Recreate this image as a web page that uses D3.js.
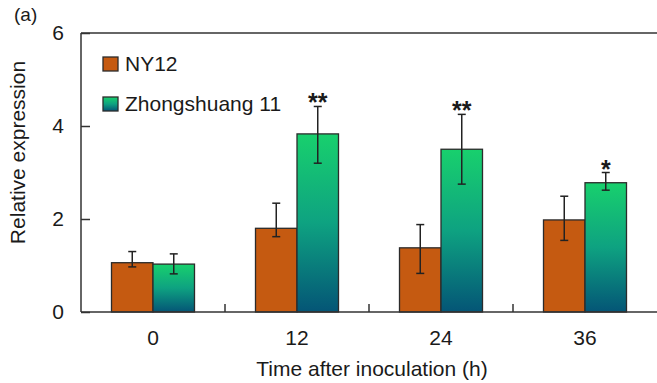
<!DOCTYPE html>
<html>
<head>
<meta charset="utf-8">
<script src="https://cdn.jsdelivr.net/npm/d3@7"></script>
<style>
  html, body { margin: 0; padding: 0; background: #fff; }
  svg { display: block; font-family: "Liberation Sans", Arial, sans-serif; }
</style>
</head>
<body>
<svg id="chart" width="657" height="383"></svg>
<script>
// Time points (h) after inoculation
const categories = ["0", "12", "24", "36"];
const seriesNames = ["NY12", "Zhongshuang 11"];

// Mean relative expression
const ny12Values = [1.06, 1.80, 1.38, 1.98];
const zs11Values = [1.03, 3.83, 3.50, 2.78];

// Error bar ends (whisker top / bottom)
const ny12High = [1.30, 2.34, 1.88, 2.49];
const ny12Low  = [0.97, 1.62, 0.83, 1.54];
const zs11High = [1.25, 4.42, 4.25, 3.00];
const zs11Low  = [0.82, 3.20, 2.75, 2.62];

// Significance marks for Zhongshuang 11 vs NY12
const zs11Signif = ["", "**", "**", "*"];

const yTicks = [0, 2, 4, 6];

(function draw() {
  const svg = d3.select("#chart");
  const plotLeft = 81, plotRight = 657, plotTop = 33, plotBottom = 312;
  const axisColor = "#333";
  const textColor = "#1a1a1a";

  // gradient fill for Zhongshuang 11 bars
  const defs = svg.append("defs");
  const grad = defs.append("linearGradient")
    .attr("id", "zsGrad").attr("x1", 0).attr("y1", 0).attr("x2", 0).attr("y2", 1);
  grad.append("stop").attr("offset", "0%").attr("stop-color", "#18d06d");
  grad.append("stop").attr("offset", "50%").attr("stop-color", "#0ea281");
  grad.append("stop").attr("offset", "100%").attr("stop-color", "#045576");

  const fills = ["#c55a11", "url(#zsGrad)"];

  const x = d3.scaleBand().domain(categories).range([plotLeft, plotRight]).paddingInner(0).paddingOuter(0);
  const x1 = d3.scaleBand().domain(seriesNames).range([0, x.bandwidth()]).paddingInner(0).paddingOuter(0.735);
  const y = d3.scaleLinear().domain([0, 6]).range([plotBottom, plotTop]);

  const series = [
    { name: seriesNames[0], values: ny12Values, hi: ny12High, lo: ny12Low, sig: null },
    { name: seriesNames[1], values: zs11Values, hi: zs11High, lo: zs11Low, sig: zs11Signif }
  ];

  // bars
  series.forEach((s, si) => {
    svg.append("g").selectAll("rect").data(categories).join("rect")
      .attr("x", (c) => x(c) + x1(s.name))
      .attr("y", (c, i) => y(s.values[i]))
      .attr("width", x1.bandwidth())
      .attr("height", (c, i) => y(0) - y(s.values[i]))
      .attr("fill", fills[si])
      .attr("stroke", "#2b2b2b")
      .attr("stroke-width", 1.3);
  });

  // error bars and significance marks
  series.forEach((s) => {
    const g = svg.append("g").attr("stroke", "#222").attr("stroke-width", 1.5);
    categories.forEach((c, i) => {
      const cx = x(c) + x1(s.name) + x1.bandwidth() / 2;
      g.append("line").attr("x1", cx).attr("x2", cx).attr("y1", y(s.hi[i])).attr("y2", y(s.lo[i]));
      [s.hi[i], s.lo[i]].forEach(v => {
        g.append("line").attr("x1", cx - 4).attr("x2", cx + 4).attr("y1", y(v)).attr("y2", y(v));
      });
      if (s.sig && s.sig[i]) {
        svg.append("text")
          .attr("x", cx).attr("y", y(s.hi[i]) + 5)
          .attr("text-anchor", "middle")
          .attr("font-size", 25).attr("font-weight", "bold")
          .attr("fill", textColor)
          .text(s.sig[i]);
      }
    });
  });

  // y axis
  const yAxis = d3.axisLeft(y).tickValues(yTicks).tickFormat(d3.format("d")).tickSize(-9).tickPadding(17);
  const gy = svg.append("g").attr("transform", `translate(${plotLeft},0)`).call(yAxis);
  gy.select(".domain").remove();
  gy.selectAll(".tick line").attr("stroke", axisColor).attr("stroke-width", 1.5);
  gy.selectAll(".tick text").attr("font-size", 21).attr("fill", textColor)
    .attr("font-family", "Liberation Sans, Arial, sans-serif");

  // frame: left and top lines
  svg.append("line").attr("x1", plotLeft).attr("x2", plotLeft).attr("y1", plotTop).attr("y2", plotBottom)
    .attr("stroke", axisColor).attr("stroke-width", 1.5);
  svg.append("line").attr("x1", plotLeft).attr("x2", plotRight).attr("y1", plotTop).attr("y2", plotTop)
    .attr("stroke", axisColor).attr("stroke-width", 1.5);

  // x axis with separator ticks between groups
  const xAxis = d3.axisBottom(x).tickSize(0).tickPadding(18);
  const gx = svg.append("g").attr("transform", `translate(0,${plotBottom})`).call(xAxis);
  gx.select(".domain").remove();
  gx.selectAll(".tick text").attr("font-size", 21).attr("fill", textColor)
    .attr("font-family", "Liberation Sans, Arial, sans-serif");
  svg.append("line").attr("x1", plotLeft).attr("x2", plotRight).attr("y1", plotBottom).attr("y2", plotBottom)
    .attr("stroke", axisColor).attr("stroke-width", 1.5);
  svg.append("g").selectAll("line").data(categories.slice(1)).join("line")
    .attr("x1", c => x(c)).attr("x2", c => x(c))
    .attr("y1", plotBottom).attr("y2", plotBottom - 8)
    .attr("stroke", axisColor).attr("stroke-width", 1.5);

  // axis titles
  svg.append("text")
    .attr("x", (plotLeft + plotRight) / 2 + 3).attr("y", 376)
    .attr("text-anchor", "middle").attr("font-size", 21).attr("fill", textColor)
    .text("Time after inoculation (h)");
  svg.append("text")
    .attr("transform", `translate(25,${(plotTop + plotBottom) / 2 - 20}) rotate(-90)`)
    .attr("text-anchor", "middle").attr("font-size", 21).attr("fill", textColor)
    .text("Relative expression");

  // panel label
  svg.append("text").attr("x", 14).attr("y", 21).attr("font-size", 19).attr("fill", textColor).text("(a)");

  // legend
  const legend = svg.append("g");
  series.forEach((s, si) => {
    const ly = 57 + si * 40;
    legend.append("rect").attr("x", 103).attr("y", ly).attr("width", 15).attr("height", 14)
      .attr("fill", fills[si]).attr("stroke", "#2b2b2b").attr("stroke-width", 1.3);
    legend.append("text").attr("x", 125).attr("y", ly + 14).attr("font-size", 21)
      .attr("fill", textColor).text(s.name);
  });
})();
</script>
</body>
</html>
